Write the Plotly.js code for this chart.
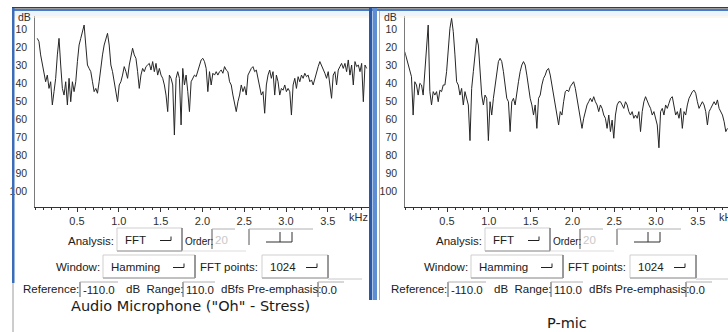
<!DOCTYPE html>
<html>
<head>
<meta charset="utf-8">
<script src="https://cdn.plot.ly/plotly-3.0.1.min.js"></script>
<style>
  html, body { margin: 0; padding: 0; background: #ffffff; overflow: hidden; }
  #chart { width: 728px; height: 332px; }
</style>
</head>
<body>
<div id="chart"></div>
<script>
// FFT spectra (1024 points, Hamming window), level in dB below the reference.
// Bins are evenly spaced, so each trace is given by its first bin and the bin width.
const binWidthKHz = 0.02;

const micStartKHz = 0.025;
const micLevelsDb = [
  15.2,
  17.0, 24.4, 29.1, 33.7, 39.3, 35.6, 43.0, 39.3, 52.2, 44.8,
  37.4, 24.4, 15.2, 30.0, 43.0, 46.7, 39.3, 52.2, 37.4, 50.4,
  39.3, 44.8, 39.3, 28.1, 18.9, 15.2, 11.5, 7.8, 18.9, 30.0,
  31.9, 33.7, 39.3, 44.8, 43.0, 45.7, 39.3, 30.0, 24.4, 18.9,
  15.2, 12.4, 18.9, 30.0, 33.7, 39.3, 43.0, 50.4, 41.1, 39.3,
  35.6, 30.9, 33.7, 37.4, 30.0, 24.4, 20.7, 24.4, 26.3, 33.7,
  43.0, 35.6, 31.9, 33.7, 30.9, 30.0, 29.1, 32.8, 28.1, 33.7,
  29.1, 35.6, 31.9, 35.6, 37.4, 41.1, 46.7, 55.9, 35.6, 37.4,
  41.1, 68.9, 37.4, 33.7, 37.4, 63.3, 31.9, 41.1, 35.6, 44.8,
  55.9, 39.3, 37.4, 35.6, 36.5, 33.7, 30.0, 27.2,
  26.3, 28.1, 31.9, 44.8, 33.7, 41.1, 34.6, 35.6, 33.7, 35.6,
  33.7, 32.8, 34.6, 30.9, 32.8, 33.7, 39.3, 41.1, 46.7, 52.2,
  55.9, 50.4, 46.7, 41.1, 44.8, 42.0, 46.7, 35.6, 33.7, 31.9,
  30.9, 33.7, 32.8, 37.4, 43.0, 46.7, 44.8, 56.8, 41.1, 35.6,
  32.8, 37.4, 33.7, 46.7, 35.6, 39.3, 46.7, 43.0, 44.0, 41.1,
  44.8, 43.0, 44.8, 57.8, 41.1, 37.4, 43.0, 36.5, 39.3, 35.6,
  37.4, 34.6, 36.5, 35.6, 39.3, 38.3, 41.1, 37.4, 33.7, 30.9,
  28.1, 30.0, 31.9, 34.6, 37.4, 33.7, 41.1, 48.5, 35.6, 33.7,
  41.1, 32.8, 30.9, 29.1, 31.9, 29.1, 33.7, 27.2, 35.6, 30.0,
  41.1, 28.1, 30.9, 30.0, 33.7, 29.1, 50.4, 30.0, 31.9
];

const pmicStartKHz = -0.005;
const pmicLevelsDb = [
  22.6,
  26.3, 29.1, 33.7, 36.5, 57.8, 39.3, 41.1, 46.7, 40.2, 41.1,
  46.7, 33.7, 15.2, 7.8, 44.8, 52.2, 44.8, 46.7, 44.8, 50.4,
  44.0, 44.8, 41.1, 41.1, 33.7, 18.9, 9.6, 4.1, 11.5, 24.4,
  39.3, 41.1, 46.7, 43.0, 52.2, 44.8, 48.5, 52.2, 72.0, 43.0,
  33.7, 22.6, 15.2, 18.9, 33.7, 46.7, 52.2, 46.7, 48.5, 72.0,
  50.4, 57.8, 48.5, 41.1, 33.7, 28.1, 26.3, 28.1, 33.7, 41.1,
  48.5, 50.4, 67.0, 50.4, 48.5, 52.2, 44.8, 39.3, 33.7, 30.0,
  28.1, 30.0, 35.6, 43.0, 48.5, 52.2, 57.8, 52.2, 65.2, 48.5,
  46.7, 41.1, 37.4, 35.6, 32.8, 31.9, 35.6, 41.1, 46.7, 52.2,
  57.8, 63.3, 55.9, 57.8, 50.4, 44.8,
  43.9, 44.8, 42.0, 40.2, 39.3, 43.0, 48.5, 52.2, 57.8, 65.2,
  59.6, 55.9, 52.2, 50.4, 48.5, 50.4, 47.6, 50.4, 52.2, 55.9,
  52.2, 54.1, 57.8, 59.6, 65.2, 57.8, 67.0, 60.6, 70.7, 57.8,
  52.2, 50.4, 50.4, 52.2, 54.1, 50.4, 52.2, 55.9, 57.8, 55.9,
  59.6, 57.8, 59.6, 55.9, 67.0, 55.9, 50.4, 47.6, 50.4, 52.2,
  54.1, 57.8, 55.9, 60.6, 63.3, 76.0, 55.9, 54.1, 57.8, 52.2,
  54.1, 51.3, 48.5, 47.6, 52.2, 57.8, 55.9, 59.6, 54.1, 65.2,
  55.9, 57.8, 52.2, 48.5, 46.7, 44.8, 44.0, 45.7, 50.4, 54.1,
  52.2, 50.4, 52.2, 55.9, 63.3, 55.9, 54.1, 52.2, 50.4, 52.2,
  49.4, 54.1, 55.9, 57.8, 61.5, 67.0, 65.2
];

const freqTicks = [0.5, 1.0, 1.5, 2.0, 2.5, 3.0, 3.5];
const freqTickText = ['0.5', '1.0', '1.5', '2.0', '2.5', '3.0', '3.5'];
const levelTicks = [10, 20, 30, 40, 50, 60, 70, 80, 90, 100];
const levelTickText = ['10', '20', '30', '40', '50', '60', '70', '80', '90', '100'];
const panelTitles = ['Audio Microphone ("Oh" - Stress)', 'P-mic'];

// Analysis settings shown under each spectrum
const analysisMethod = 'FFT';
const lpcOrder = '20';
const windowName = 'Hamming';
const fftPoints = '1024';
const referenceDb = '-110.0';
const rangeDb = '110.0';
const preEmphasis = '0.0';

// ---------------------------------------------------------------------------
const W = 728, H = 332;
const px = x => x / W;
const py = y => 1 - y / H;

const UI_FONT = 'Liberation Sans, Arial, sans-serif';
const shapes = [];
const annotations = [];

function rect(x0, y0, x1, y1, fill, line) {
  shapes.push({ type: 'rect', xref: 'paper', yref: 'paper', layer: 'above',
    x0: px(x0), x1: px(x1), y0: py(y0), y1: py(y1),
    fillcolor: fill || 'rgba(0,0,0,0)',
    line: line ? { color: line, width: 1 } : { width: 0 } });
}
function seg(x0, y0, x1, y1, color, width) {
  shapes.push({ type: 'line', xref: 'paper', yref: 'paper', layer: 'above',
    x0: px(x0), x1: px(x1), y0: py(y0), y1: py(y1),
    line: { color: color, width: width || 1 } });
}
function path(d, color) {
  shapes.push({ type: 'path', xref: 'paper', yref: 'paper', layer: 'above',
    path: d.replace(/(-?\d+(\.\d+)?),(-?\d+(\.\d+)?)/g, (m, a, b, c) => px(+a) + ',' + py(+c)),
    line: { color: color, width: 1 } });
}
function label(x, y, text, opts) {
  opts = opts || {};
  annotations.push({ xref: 'paper', yref: 'paper', x: px(x), y: py(y),
    xanchor: opts.anchor || 'left', yanchor: 'middle', showarrow: false,
    text: text, borderpad: 0,
    font: { family: opts.family || UI_FONT, size: opts.size || 11.5, color: opts.color || '#202020' } });
}

// Drop-down button: raised box with a small arrow mark at the right
function dropdown(x0, y0, x1, y1, text) {
  rect(x0, y0, x1, y1, '#ffffff', '#cfcfcf');
  seg(x1, y0, x1, y1, '#4a4a4a', 1);
  seg(x0, y1, x1, y1, '#9a9a9a', 1);
  const yc = (y0 + y1) / 2 + 1;
  path(`M${x1 - 22},${yc} L${x1 - 11},${yc} L${x1 - 11},${yc - 4}`, '#202020');
  label(x0 + 7, (y0 + y1) / 2, text);
}
// Sunken entry field
function entry(x0, y0, x1, y1, text, color) {
  seg(x0, y0, x0, y1, '#555555', 1);
  seg(x0, y0, x1, y0, '#b0b0b0', 1);
  if (text) label(x0 + 2, (y0 + y1) / 2 + 0.5, text, { color: color });
}

function controls(dx, dy) {
  // row 1
  label(67 + dx, 241 + dy, 'Analysis:');
  dropdown(117 + dx, 228 + dy, 182 + dx, 251 + dy, analysisMethod);
  label(184 + dx, 241 + dy, 'Order:', { size: 10 });
  entry(212 + dx, 229 + dy, 235 + dx, 249 + dy, lpcOrder, '#c8c8c8');
  entry(249 + dx, 229 + dy, 313 + dx, 245 + dy, '');
  path(`M${266 + dx},${242 + dy} L${292 + dx},${242 + dy}`, '#303030');
  path(`M${280 + dx},${232 + dy} L${280 + dx},${242 + dy}`, '#303030');
  path(`M${292 + dx},${232 + dy} L${292 + dx},${242 + dy}`, '#303030');
  seg(182 + dx, 251 + dy, 246 + dx, 251 + dy, '#dddddd', 1);
  // row 2
  label(55 + dx, 267 + dy, 'Window:');
  dropdown(103 + dx, 255 + dy, 195 + dx, 278 + dy, windowName);
  label(199 + dx, 267 + dy, 'FFT points:');
  dropdown(262 + dx, 255 + dy, 328 + dx, 278 + dy, fftPoints);
  seg(328 + dx, 279 + dy, 362 + dx, 279 + dy, '#c8c8c8', 1);
  // row 3
  label(22 + dx, 289 + dy, 'Reference:');
  entry(80 + dx, 282 + dy, 118 + dx, 297 + dy, referenceDb);
  label(125 + dx, 289 + dy, 'dB&nbsp;&nbsp;Range:');
  entry(183 + dx, 282 + dy, 215 + dx, 297 + dy, rangeDb);
  label(220 + dx, 289 + dy, 'dBfs&nbsp;Pre-emphasis:');
  entry(318 + dx, 282 + dy, 344 + dx, 297 + dy, preEmphasis);
}

// window frames
rect(14, 11, 369, 16, '#eef4fb');
rect(380, 11, 728, 16, '#eef4fb');
seg(14, 17, 369, 17, '#f8f1e2', 1);
seg(380, 17, 728, 17, '#f8f1e2', 1);
seg(12, 7.8, 728, 7.8, '#3c3c3c', 1.5);
rect(12, 9, 728, 11, '#4a7bc6');
rect(12, 8, 14.5, 283, '#3b6cb8');
seg(13, 283, 13, 332, '#9a9a9a', 1);
rect(369, 8, 372, 300, '#2a58a5');
rect(372.5, 8, 377, 300, '#5d8dd2');
seg(379.5, 11, 379.5, 300, '#9fb0c8', 1);

controls(0, 0);
controls(368, 0);

// axis decorations
label(17, 17, 'dB', { size: 10.5, color: '#303030' });
label(383, 17, 'dB', { size: 10.5, color: '#303030' });

// panel captions
label(190, 305.5, panelTitles[0], { anchor: 'center', family: 'DejaVu Sans, sans-serif', size: 14.5, color: '#1a1a1a' });
label(567, 323, panelTitles[1], { anchor: 'center', family: 'DejaVu Sans, sans-serif', size: 14.5, color: '#1a1a1a' });

// "kHz" unit at the end of each frequency axis
['x', 'x2'].forEach(ax => {
  annotations.push({ xref: ax, yref: 'paper', x: 3.74, y: py(217), xanchor: 'left', yanchor: 'middle',
    showarrow: false, text: 'kHz', borderpad: 0,
    font: { family: UI_FONT, size: 11, color: '#303030' } });
});

const lineStyle = { color: '#262626', width: 1 };
const traces = [
  { type: 'scatter', mode: 'lines', x0: micStartKHz, dx: binWidthKHz, y: micLevelsDb,
    xaxis: 'x', yaxis: 'y', line: lineStyle, hoverinfo: 'skip' },
  { type: 'scatter', mode: 'lines', x0: pmicStartKHz, dx: binWidthKHz, y: pmicLevelsDb,
    xaxis: 'x2', yaxis: 'y2', line: lineStyle, hoverinfo: 'skip' }
];

function freqAxis(domain, range, anchor) {
  return {
    domain: domain, range: range, anchor: anchor,
    showline: true, linecolor: '#333333', linewidth: 1,
    ticks: 'outside', ticklen: 4, tickcolor: '#333333', tickwidth: 1,
    tickvals: freqTicks, ticktext: freqTickText,
    minor: { tickmode: 'linear', tick0: 0, dtick: 0.1, ticks: 'outside', ticklen: 2, tickcolor: '#333333' },
    tickfont: { family: UI_FONT, size: 11, color: '#303030' },
    showgrid: false, zeroline: false, fixedrange: true
  };
}
function levelAxis(anchor) {
  return {
    domain: [py(207.2), py(11)], range: [109, 0], anchor: anchor,
    showline: true, linecolor: '#7a7a7a', linewidth: 1,
    ticks: '', tickvals: levelTicks, ticktext: levelTickText,
    tickfont: { family: UI_FONT, size: 10.5, color: '#303030' },
    ticklabelstandoff: 5,
    showgrid: false, zeroline: false, fixedrange: true
  };
}

const layout = {
  width: W, height: H,
  margin: { l: 0, r: 0, t: 0, b: 0, pad: 0 },
  paper_bgcolor: '#ffffff', plot_bgcolor: '#ffffff',
  showlegend: false,
  xaxis: freqAxis([px(35.2), px(369.6)], [0, 4.0], 'y'),
  yaxis: levelAxis('x'),
  xaxis2: freqAxis([px(405.2), 1], [0, (W - 405.2) / 83.6], 'y2'),
  yaxis2: levelAxis('x2'),
  shapes: shapes,
  annotations: annotations
};

Plotly.newPlot('chart', traces, layout, { staticPlot: true, displayModeBar: false });
</script>
</body>
</html>
